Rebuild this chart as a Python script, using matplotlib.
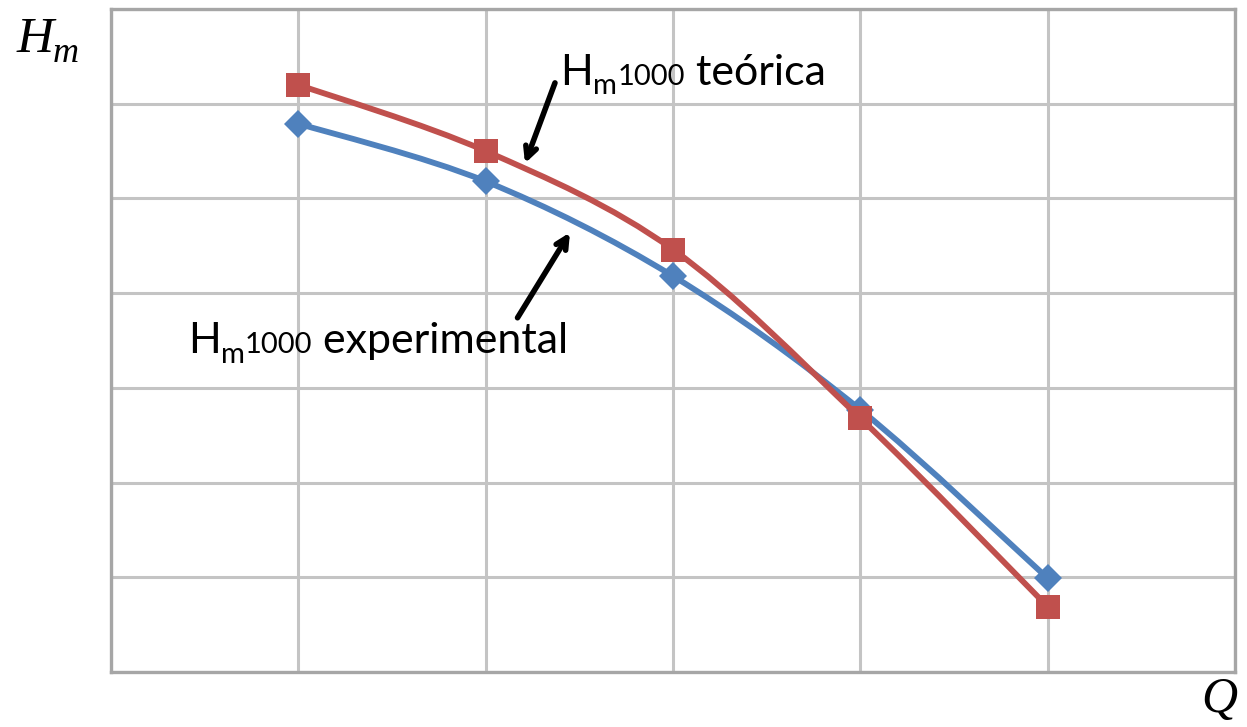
import matplotlib
matplotlib.use("Agg")
import matplotlib.pyplot as plt
import matplotlib.transforms as mtransforms
from matplotlib.path import Path
from matplotlib.patches import PathPatch
import numpy as np

# ---- data ----
q_points = [1, 2, 3, 4, 5]
h_teorica = [6.20, 5.50, 4.46, 2.68, 0.69]
h_experimental = [5.79, 5.18, 4.18, 2.77, 0.99]
x_limits = [0, 6]
y_limits = [0, 7]

RED = "#C0504D"
BLUE = "#4F81BD"

fig = plt.figure(figsize=(12.47, 7.27), dpi=100)
ax = fig.add_axes([111 / 1247, 1 - 672 / 727, (1235 - 111) / 1247, (672 - 9) / 727])
ax.set_xlim(*x_limits)
ax.set_ylim(*y_limits)
ax.set_xticks(np.arange(x_limits[0], x_limits[1] + 1))
ax.set_yticks(np.arange(y_limits[0], y_limits[1] + 1))
ax.tick_params(length=0, labelbottom=False, labelleft=False)
ax.grid(True, color="#C4C4C4", linewidth=2.2)
ax.set_axisbelow(True)
for s in ax.spines.values():
    s.set_color("#A6A6A6")
    s.set_linewidth(2.4)


def smooth_path(xs, ys):
    pts = np.column_stack([xs, ys]).astype(float)
    n = len(pts)
    verts = [pts[0]]
    codes = [Path.MOVETO]
    for i in range(n - 1):
        p0 = pts[i - 1] if i > 0 else pts[i]
        p1 = pts[i]
        p2 = pts[i + 1]
        p3 = pts[i + 2] if i + 2 < n else pts[i + 1]
        c1 = p1 + (p2 - p0) / 6.0
        c2 = p2 - (p3 - p1) / 6.0
        verts += [c1, c2, p2]
        codes += [Path.CURVE4] * 3
    return Path(verts, codes)


for ys, color, marker, ms, z in [
    (h_experimental, BLUE, "D", 14, 3),
    (h_teorica, RED, "s", 17, 4),
]:
    ax.add_patch(PathPatch(smooth_path(q_points, ys), facecolor="none",
                           edgecolor=color, linewidth=4.2, zorder=z,
                           capstyle="round", joinstyle="round"))
    ax.plot(q_points, ys, linestyle="none", marker=marker, markersize=ms,
            color=color, markeredgewidth=0, zorder=z + 0.5)

# arrows
arrow_kw = dict(arrowstyle="->,head_length=0.8,head_width=0.4", color="black",
                lw=4.0, shrinkA=0, shrinkB=0)
ax.annotate("", xy=(2.21, 5.37), xytext=(2.37, 6.22), arrowprops=arrow_kw, zorder=6)
ax.annotate("", xy=(2.45, 4.64), xytext=(2.17, 3.74), arrowprops=arrow_kw, zorder=6)

# rich text labels
renderer = fig.canvas.get_renderer()
FONT = ["Lato", "DejaVu Sans"]


def rich_text(x, y, parts):
    dx = 0.0
    for s, size, dy in parts:
        tr = mtransforms.offset_copy(ax.transData, fig=fig, x=dx, y=dy, units="points")
        t = ax.text(x, y, s, transform=tr, fontsize=size, family=FONT,
                    ha="left", va="baseline", zorder=7)
        w = t.get_window_extent(renderer).width * 72.0 / fig.dpi
        dx += w


rich_text(2.40, 6.20, [("H", 31, 0), ("m", 21, -7), ("1000", 21, 0), (" teórica", 31, 0)])
rich_text(0.41, 3.37, [("H", 31, 0), ("m", 21, -7), ("1000", 21, 0), (" experimental", 31, 0)])

# axis labels (serif italic)
fig.text(17 / 1247, 1 - 52 / 727, "H", fontsize=37, family="Liberation Serif",
         style="italic", ha="left", va="baseline")
fig.text(53 / 1247, 1 - 62 / 727, "m", fontsize=26, family="Liberation Serif",
         style="italic", ha="left", va="baseline")
fig.text(1237 / 1247, 1 - 712 / 727, "Q", fontsize=36, family="Liberation Serif",
         style="italic", ha="right", va="baseline")

fig.savefig("out.png", dpi=100)
